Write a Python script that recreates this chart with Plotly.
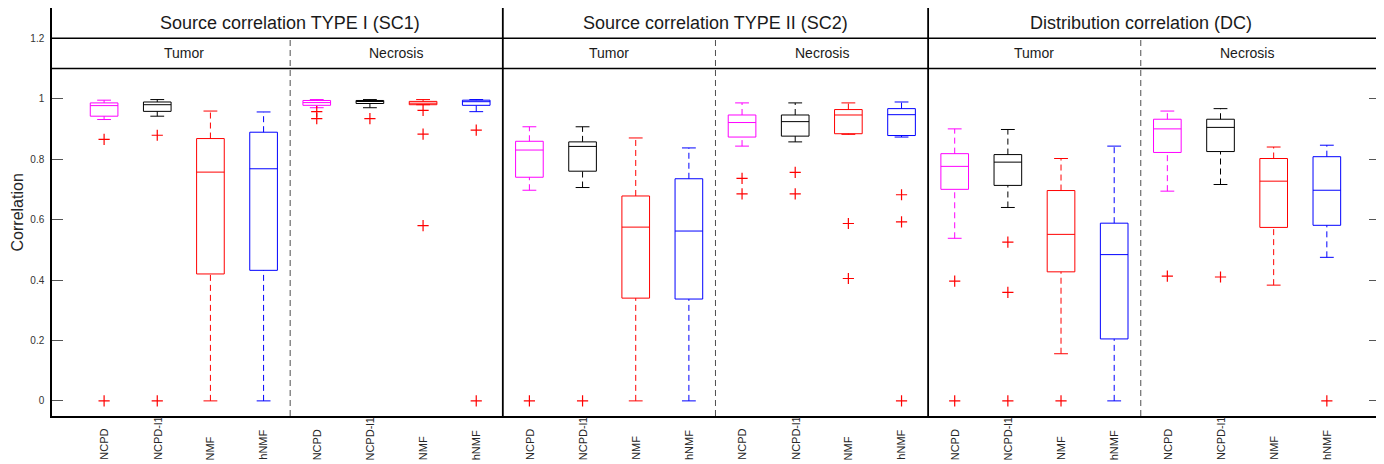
import plotly.graph_objects as go

# ---------------- data ----------------
groups = ["Source correlation TYPE I (SC1)", "Source correlation TYPE II (SC2)", "Distribution correlation (DC)"]
regions = ["Tumor", "Necrosis"]
methods = ["NCPD", "NCPD-l1", "NMF", "hNMF"]
method_colors = ["#FF00FF", "#000000", "#FF0000", "#0000FF"]

y_tick_vals = [0, 0.2, 0.4, 0.6, 0.8, 1.0, 1.2]
y_tick_text = ["0", "0.2", "0.4", "0.6", "0.8", "1", "1.2"]

# order: SC1 Tumor (4), SC1 Necrosis (4), SC2 Tumor, SC2 Necrosis, DC Tumor, DC Necrosis
upper_whisker = [0.995, 0.997, 0.959, 0.956, 0.997, 0.997, 0.997, 0.997,
                 0.907, 0.907, 0.870, 0.837, 0.986, 0.986, 0.986, 0.989,
                 0.900, 0.898, 0.802, 0.843, 0.959, 0.967, 0.840, 0.846]
q3 = [0.986, 0.989, 0.868, 0.889, 0.994, 0.994, 0.991, 0.995,
      0.859, 0.857, 0.678, 0.735, 0.946, 0.946, 0.964, 0.967,
      0.818, 0.815, 0.696, 0.588, 0.932, 0.932, 0.802, 0.808]
median = [0.977, 0.980, 0.757, 0.768, 0.987, 0.991, 0.985, 0.990,
          0.830, 0.842, 0.575, 0.562, 0.921, 0.924, 0.946, 0.947,
          0.776, 0.790, 0.551, 0.484, 0.900, 0.905, 0.727, 0.697]
q1 = [0.942, 0.958, 0.420, 0.432, 0.978, 0.984, 0.980, 0.978,
      0.740, 0.760, 0.340, 0.337, 0.873, 0.876, 0.884, 0.878,
      0.700, 0.713, 0.427, 0.205, 0.822, 0.825, 0.574, 0.581]
lower_whisker = [0.931, 0.942, 0.0, 0.0, 0.970, 0.970, 0.980, 0.957,
                 0.697, 0.706, 0.0, 0.0, 0.843, 0.857, 0.882, 0.873,
                 0.538, 0.640, 0.156, 0.0, 0.694, 0.716, 0.383, 0.475]
outliers = [[0.865, 0.0], [0.879, 0.0], [], [], [0.957, 0.934], [0.934], [0.961, 0.883, 0.580], [0.896, 0.0],
            [0.0], [0.0], [], [], [0.736, 0.685], [0.756, 0.685], [0.587, 0.405], [0.682, 0.592, 0.0],
            [0.396, 0.0], [0.525, 0.359, 0.0], [0.0], [], [0.413], [0.410], [], [0.0]]

# ---------------- figure ----------------
n_m = len(methods)
n_r = len(regions)
n_box = len(groups) * n_r * n_m
positions = list(range(n_box))
labels = [methods[i % n_m] for i in positions]

BOX_W = 0.52
CAP_HALF = 0.13

fig = go.Figure()

for m, (name, col) in enumerate(zip(methods, method_colors)):
    idx = [i for i in positions if i % n_m == m]
    fig.add_trace(go.Box(
        x=idx,
        q1=[q1[i] for i in idx],
        median=[median[i] for i in idx],
        q3=[q3[i] for i in idx],
        lowerfence=[q1[i] for i in idx],
        upperfence=[q3[i] for i in idx],
        width=BOX_W,
        whiskerwidth=0,
        line=dict(color=col, width=1),
        fillcolor="rgba(0,0,0,0)",
        boxpoints=False,
        showlegend=False,
        hoverinfo="skip",
    ))
    # dashed whiskers
    wx, wy = [], []
    for i in idx:
        wx += [i, i, None, i, i, None]
        wy += [lower_whisker[i], q1[i], None, q3[i], upper_whisker[i], None]
    fig.add_trace(go.Scatter(x=wx, y=wy, mode="lines",
                             line=dict(color=col, width=1, dash="6px,4px"),
                             showlegend=False, hoverinfo="skip"))
    # whisker caps
    cx, cy = [], []
    for i in idx:
        cx += [i - CAP_HALF, i + CAP_HALF, None, i - CAP_HALF, i + CAP_HALF, None]
        cy += [lower_whisker[i], lower_whisker[i], None, upper_whisker[i], upper_whisker[i], None]
    fig.add_trace(go.Scatter(x=cx, y=cy, mode="lines",
                             line=dict(color=col, width=1),
                             showlegend=False, hoverinfo="skip"))

# outliers
ox, oy = [], []
for i in positions:
    for v in outliers[i]:
        ox.append(i)
        oy.append(v)
fig.add_trace(go.Scatter(x=ox, y=oy, mode="markers",
                         marker=dict(symbol="cross-thin", size=8, line=dict(color="#FF0000", width=1.2)),
                         showlegend=False, hoverinfo="skip"))

shapes = []
# header lines
for yv in (1.2, 1.1):
    shapes.append(dict(type="line", xref="paper", yref="y", x0=0, x1=1, y0=yv, y1=yv,
                       line=dict(color="black", width=1.5)))
group_size = n_r * n_m
for g in range(len(groups)):
    # dashed separator between regions
    xd = g * group_size + n_m - 0.5
    shapes.append(dict(type="line", xref="x", yref="y", x0=xd, x1=xd, y0=-0.05, y1=1.2,
                       line=dict(color="#505050", width=1, dash="6px,4px")))
    if g > 0:
        xs = g * group_size - 0.5
        shapes.append(dict(type="line", xref="x", yref="paper", x0=xs, x1=xs, y0=0, y1=1,
                           line=dict(color="black", width=1.8)))

annotations = []
for g, gname in enumerate(groups):
    annotations.append(dict(x=g * group_size + (group_size - 1) / 2, y=1.25, xref="x", yref="y",
                            text=gname, showarrow=False,
                            font=dict(size=18, color="#1a1a1a", family="Liberation Sans")))
    for r, rname in enumerate(regions):
        annotations.append(dict(x=g * group_size + r * n_m + (n_m - 1) / 2, y=1.15, xref="x", yref="y",
                                text=rname, showarrow=False,
                                font=dict(size=14, color="#1a1a1a", family="Liberation Sans")))
for i, lab in zip(positions, labels):
    annotations.append(dict(x=i, y=-0.113, xref="x", yref="paper", text=lab, showarrow=False,
                            textangle=-90, xanchor="center", yanchor="bottom",
                            font=dict(size=11, color="#262626", family="Liberation Sans")))
annotations.append(dict(x=-0.026, y=0.5, xref="paper", yref="paper", text="Correlation",
                        showarrow=False, textangle=-90, xanchor="center", yanchor="middle",
                        font=dict(size=16, color="#262626", family="Liberation Sans")))

# the page body adds an 8px offset; size the figure so the plot lands at 52..1380 x 8..416
fig.update_layout(
    width=1376, height=456,
    margin=dict(l=44, r=4, t=0, b=48, autoexpand=False),
    paper_bgcolor="white", plot_bgcolor="white",
    boxmode="overlay",
    shapes=shapes, annotations=annotations,
    font=dict(family="Liberation Sans"),
    xaxis=dict(range=[-0.98, 24.0], showticklabels=False, ticks="", showgrid=False,
               zeroline=False, showline=True, linecolor="black", linewidth=1.5, mirror=True),
    yaxis=dict(range=[-0.05, 1.3], tickvals=y_tick_vals, ticktext=y_tick_text,
               ticks="inside", ticklen=11, tickcolor="#555555", tickwidth=1,
               showgrid=False, zeroline=False, showline=True, linecolor="black", linewidth=1.5,
               mirror="ticks", ticklabelstandoff=4, automargin=False,
               tickfont=dict(size=10, color="#333333", family="Liberation Sans")),
)

fig.write_html("out.html")
